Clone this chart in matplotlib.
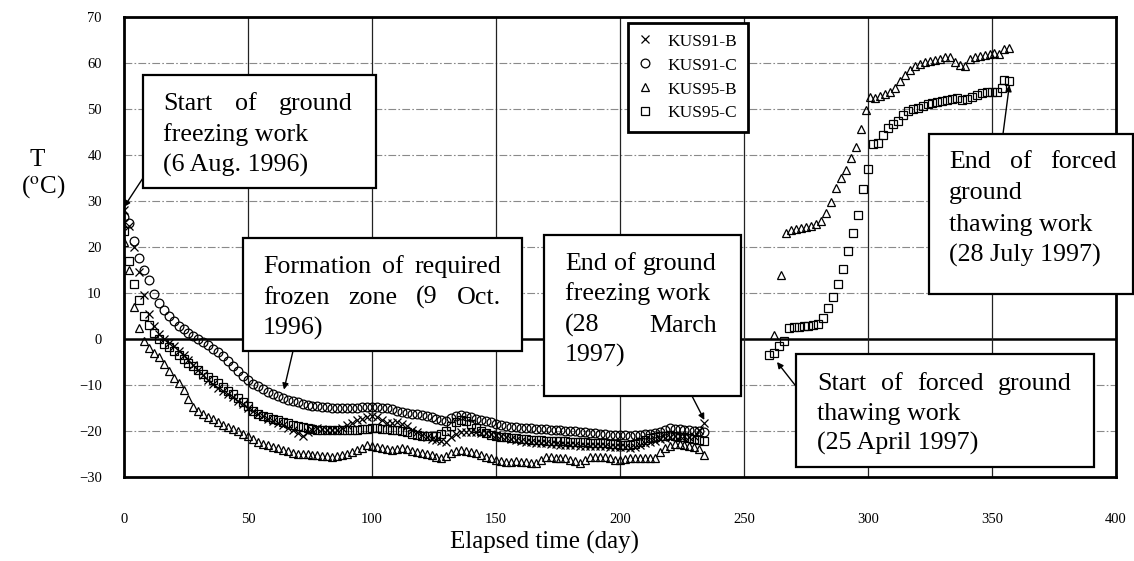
import matplotlib
matplotlib.use("Agg")
import matplotlib.pyplot as plt
from matplotlib.patches import Rectangle

# ---------------- data ----------------
freeze_days = list(range(0, 236, 2))

kus91b = [28.0, 24.5, 20.0, 14.5, 9.5, 5.5, 2.8, 1.0, 0.0, -0.8,
          -1.6, -2.5, -3.5, -4.6, -5.7, -6.8, -7.9, -8.9, -9.8, -10.6,
          -11.3, -12.0, -12.7, -13.5, -14.2, -15.0, -15.6, -16.2, -16.8, -17.4,
          -17.9, -18.3, -18.8, -19.3, -19.8, -20.5, -21.1, -20.3, -19.7, -19.4,
          -19.5, -19.7, -19.8, -19.8, -19.4, -18.8, -18.2, -17.7, -17.3, -17.0,
          -16.8, -16.9, -17.6, -18.2, -18.3, -18.0, -18.4, -19.0, -19.7, -20.3,
          -20.8, -21.3, -21.7, -22.0, -22.2, -22.3, -21.4, -20.6, -20.3, -20.2,
          -20.2, -20.3, -20.4, -20.5, -20.7, -20.9, -21.1, -21.4, -21.7, -21.9,
          -22.1, -22.3, -22.4, -22.5, -22.6, -22.7, -22.8, -22.9, -23.0, -23.0,
          -23.1, -23.1, -23.2, -23.2, -23.2, -23.3, -23.3, -23.3, -23.4, -23.4,
          -23.5, -23.5, -23.6, -23.4, -23.1, -22.7, -22.4, -22.1, -21.8, -21.5,
          -21.3, -21.1, -21.0, -21.1, -21.3, -21.0, -19.8, -18.2]

kus91c = [26.6, 25.3, 21.2, 17.6, 15.0, 12.8, 9.8, 7.8, 6.2, 5.0,
          3.9, 2.9, 2.1, 1.4, 0.7, 0.1, -0.7, -1.4, -2.2, -2.9,
          -3.7, -4.7, -5.8, -6.9, -8.0, -9.0, -9.7, -10.3, -10.9, -11.5,
          -12.0, -12.4, -12.8, -13.2, -13.5, -13.8, -14.1, -14.3, -14.5, -14.6,
          -14.7, -14.8, -14.9, -15.0, -15.1, -15.1, -15.0, -14.9, -14.8, -14.7,
          -14.7, -14.8, -15.0, -15.1, -15.3, -15.6, -15.8, -16.0, -16.2, -16.4,
          -16.6, -16.8, -17.0, -17.3, -17.6, -17.8, -17.2, -16.8, -16.6, -16.7,
          -17.0, -17.4, -17.7, -17.9, -18.1, -18.4, -18.8, -19.0, -19.1, -19.2,
          -19.3, -19.4, -19.4, -19.5, -19.6, -19.6, -19.7, -19.8, -19.8, -19.9,
          -20.0, -20.1, -20.2, -20.3, -20.4, -20.5, -20.6, -20.7, -20.8, -20.8,
          -20.9, -20.9, -21.0, -20.9, -20.8, -20.7, -20.6, -20.5, -20.2, -19.8,
          -19.4, -19.5, -19.6, -19.7, -19.8, -19.9, -20.0, -20.2]

kus95b = [21.0, 15.0, 7.0, 2.5, -0.4, -1.9, -3.0, -4.0, -5.4, -7.0,
          -8.4, -9.5, -11.0, -13.0, -14.7, -15.7, -16.4, -16.9, -17.4, -18.0,
          -18.6, -19.1, -19.6, -20.1, -20.6, -21.1, -21.7, -22.3, -22.8, -23.1,
          -23.5, -23.8, -24.1, -24.4, -24.7, -24.9, -25.0, -25.1, -25.2, -25.3,
          -25.4, -25.5, -25.6, -25.5, -25.3, -25.0, -24.6, -24.1, -23.6, -23.1,
          -23.2, -23.4, -23.7, -24.0, -24.1, -23.9, -23.8, -24.0, -24.3, -24.5,
          -24.8, -25.1, -25.3, -25.6, -25.9, -25.5, -24.8, -24.4, -24.1, -24.3,
          -24.6, -24.8, -25.2, -25.6, -25.9, -26.2, -26.5, -26.7, -26.7, -26.6,
          -26.7, -26.8, -26.9, -27.0, -26.4, -25.7, -25.6, -25.8, -25.9, -25.9,
          -26.2, -26.6, -27.0, -26.4, -25.7, -25.6, -25.6, -25.6, -25.9, -26.2,
          -26.3, -26.0, -25.9, -25.9, -25.9, -25.9, -25.9, -25.8, -24.5, -23.6,
          -23.2, -22.9, -22.8, -23.0, -23.2, -23.4, -23.9, -25.3]

kus95c = [23.5, 17.0, 12.0, 8.5, 5.0, 3.0, 1.2, 0.1, -1.0, -1.8,
          -2.6, -3.5, -4.4, -5.2, -5.9, -6.7, -7.5, -8.2, -8.9, -9.6,
          -10.4, -11.2, -12.0, -12.8, -13.6, -14.6, -15.6, -16.3, -16.7, -17.0,
          -17.3, -17.6, -18.0, -18.3, -18.6, -18.9, -19.1, -19.3, -19.5, -19.7,
          -19.8, -19.8, -19.8, -19.8, -19.8, -19.8, -19.8, -19.7, -19.6, -19.5,
          -19.4, -19.4, -19.5, -19.6, -19.7, -19.8, -20.0, -20.3, -20.6, -20.9,
          -21.0, -21.0, -21.0, -21.0, -20.6, -20.0, -19.0, -18.0, -17.5, -17.8,
          -18.5, -19.3, -20.0, -20.5, -20.8, -21.0, -21.2, -21.4, -21.5, -21.6,
          -21.7, -21.8, -21.9, -22.0, -22.0, -22.1, -22.1, -22.2, -22.2, -22.2,
          -22.3, -22.3, -22.4, -22.4, -22.5, -22.5, -22.6, -22.7, -22.8, -22.9,
          -23.0, -23.0, -23.1, -22.8, -22.4, -22.0, -21.6, -21.3, -21.1, -21.0,
          -20.9, -21.0, -21.2, -21.4, -21.6, -21.8, -22.0, -22.2]

thaw_b_days = [262, 265, 267, 269, 271, 273, 275, 277, 279, 281, 283, 285, 287, 289,
               291, 293, 295, 297, 299, 301, 303, 305, 307, 309, 311, 313, 315, 317,
               319, 321, 323, 325, 327, 329, 331, 333, 335, 337, 339, 341, 343, 345,
               347, 349, 351, 353, 355, 357]
thaw_b = [0.9, 14.0, 23.0, 23.6, 24.0, 24.2, 24.3, 24.5, 25.0, 25.6, 27.4, 29.8, 32.8,
          35.0, 36.7, 39.3, 41.7, 45.6, 49.8, 52.7, 52.4, 52.8, 53.3, 53.8, 54.5, 56.0,
          57.4, 58.5, 59.3, 59.8, 60.2, 60.5, 60.7, 60.9, 61.2, 61.2, 60.3, 59.5, 59.3,
          60.8, 61.3, 61.6, 61.8, 62.0, 62.2, 62.0, 63.0, 63.3]

thaw_c_days = [260, 262, 264, 266, 268, 270, 272, 274, 276, 278, 280, 282, 284, 286,
               288, 290, 292, 294, 296, 298, 300, 302, 304, 306, 308, 310, 312, 314,
               316, 318, 320, 322, 324, 326, 328, 330, 332, 334, 336, 338, 340, 342,
               344, 346, 348, 350, 352, 354, 355, 357]
thaw_c = [-3.5, -3.0, -1.5, -0.5, 2.5, 2.7, 2.7, 2.8, 2.9, 3.0, 3.3, 4.5, 6.8, 9.2,
          12.0, 15.2, 19.2, 23.0, 27.0, 32.5, 37.0, 42.3, 42.7, 44.3, 45.8, 46.7, 47.3,
          48.8, 49.5, 50.0, 50.3, 50.6, 51.0, 51.3, 51.6, 51.8, 52.0, 52.2, 52.3, 52.0,
          52.1, 52.6, 53.1, 53.4, 53.6, 53.7, 53.8, 54.5, 56.3, 56.0]

series_labels = ["KUS91-B", "KUS91-C", "KUS95-B", "KUS95-C"]
x_ticks = [0, 50, 100, 150, 200, 250, 300, 350, 400]
y_ticks = [-30, -20, -10, 0, 10, 20, 30, 40, 50, 60, 70]

# ---------------- figure ----------------
W, H = 1134, 561
SERIF = ['Liberation Serif', 'DejaVu Serif']
plt.rcParams['mathtext.fontset'] = 'stix'

fig = plt.figure(figsize=(W / 100, H / 100), dpi=100)
ax = fig.add_axes([124 / W, 1 - 477 / H, 992 / W, 460 / H])


def fx(px):
    return px / W


def fy(py):
    return 1 - py / H


ax.set_xlim(0, 400)
ax.set_ylim(-30, 70)

# grid
for yv in y_ticks[1:-1]:
    if yv == 0:
        ax.axhline(0, color='black', lw=1.8, zorder=1)
    else:
        ax.axhline(yv, color='#8a8a8a', lw=0.8, ls=(0, (7, 2, 1.5, 2)), zorder=1)
for xv in x_ticks[1:-1]:
    ax.axvline(xv, color='#222222', lw=0.9, zorder=1)

mk = dict(ls='none', color='black', mfc='none', mec='black', ms=6.3, mew=0.9, zorder=3)
h1, = ax.plot(freeze_days, kus91b, marker='x', **mk)
h2, = ax.plot(freeze_days, kus91c, marker='o', **mk)
h3, = ax.plot(freeze_days, kus95b, marker='^', **mk)
h4, = ax.plot(freeze_days, kus95c, marker='s', **mk)
ax.plot(thaw_b_days, thaw_b, marker='^', **mk)
ax.plot(thaw_c_days, thaw_c, marker='s', **mk)

for s in ax.spines.values():
    s.set_linewidth(2)
ax.set_xticks(x_ticks)
ax.set_yticks(y_ticks)
ax.set_xticklabels([str(v) for v in x_ticks], family=SERIF, fontsize=10.5)
ax.set_yticklabels(["\u2212" + str(-v) if v < 0 else str(v) for v in y_ticks],
                   family=SERIF, fontsize=10.5)
ax.tick_params(axis='x', length=0, pad=26)
ax.tick_params(axis='y', length=0, pad=16)

leg = ax.legend([h1, h2, h3, h4], series_labels, loc='upper left',
                bbox_to_anchor=(fx(628), fy(23)), bbox_transform=fig.transFigure,
                frameon=True, fancybox=False, edgecolor='black', framealpha=1,
                prop={'family': SERIF, 'size': 12.5}, labelspacing=0.45,
                handlelength=0.8, handletextpad=0.9, borderpad=0.6,
                borderaxespad=0)
leg.get_frame().set_linewidth(2)
leg.set_zorder(5)

# axis labels
fig.text(fx(30), fy(160), "T", family=SERIF, fontsize=18, va='center', ha='left')
fig.text(fx(21), fy(187), r"(${}^{\mathrm{o}}$C)", family=SERIF, fontsize=18,
         va='center', ha='left')
fig.text(fx(545), fy(542), "Elapsed time (day)", family=SERIF, fontsize=18,
         va='center', ha='center')

FS = 18.7
renderer = fig.canvas.get_renderer()


def text_box(box, tx, tw, baselines, lines, justify):
    x0, y0, x1, y1 = box
    fig.add_artist(Rectangle((fx(x0), fy(y1)), (x1 - x0) / W, (y1 - y0) / H,
                             transform=fig.transFigure, facecolor='white',
                             edgecolor='black', lw=1.6, zorder=10))
    for line, by, j in zip(lines, baselines, justify):
        words = line.split()
        if not j or len(words) < 2:
            fig.text(fx(tx), fy(by), line, family=SERIF, fontsize=FS,
                     va='baseline', ha='left', zorder=12)
            continue
        ts = [fig.text(0, 0, w_, family=SERIF, fontsize=FS, va='baseline',
                       ha='left', zorder=12) for w_ in words]
        widths = [t.get_window_extent(renderer).width for t in ts]
        gap = (tw - sum(widths)) / (len(words) - 1)
        x = tx
        for t, wd in zip(ts, widths):
            t.set_position((fx(x), fy(by)))
            x += wd + gap


def arrow(start_px, xy):
    ax.annotate('', xy=xy, xycoords='data',
                xytext=(fx(start_px[0]), fy(start_px[1])), textcoords='figure fraction',
                arrowprops=dict(arrowstyle='-|>', color='black', lw=1.0,
                                mutation_scale=9, shrinkA=0, shrinkB=0),
                annotation_clip=False, zorder=9)


arrow((143, 178), (0, 28.7))
text_box((143, 75, 376, 188), 163, 190, [110, 141, 172],
         ["Start of ground", "freezing work", "(6 Aug. 1996)"],
         [True, False, False])

arrow((293, 351), (64.5, -11.0))
text_box((243, 238, 522, 351), 263, 238, [273, 304, 335],
         ["Formation of required", "frozen zone (9 Oct.", "1996)"],
         [True, True, False])

arrow((692, 396), (234, -17.6))
text_box((544, 235, 741, 396), 565, 152, [270, 300, 332, 362],
         ["End of ground", "freezing work", "(28 March", "1997)"],
         [True, False, True, False])

arrow((1003, 134), (357, 55.2))
text_box((929, 134, 1133, 294), 949, 168, [168, 199, 231, 262],
         ["End of forced", "ground", "thawing work", "(28 July 1997)"],
         [True, False, False, False])

arrow((795, 385), (263.3, -5.0))
text_box((796, 354, 1094, 467), 817, 255, [390, 420, 450],
         ["Start of forced ground", "thawing work", "(25 April 1997)"],
         [True, False, False])

fig.savefig("out.png", dpi=100)
